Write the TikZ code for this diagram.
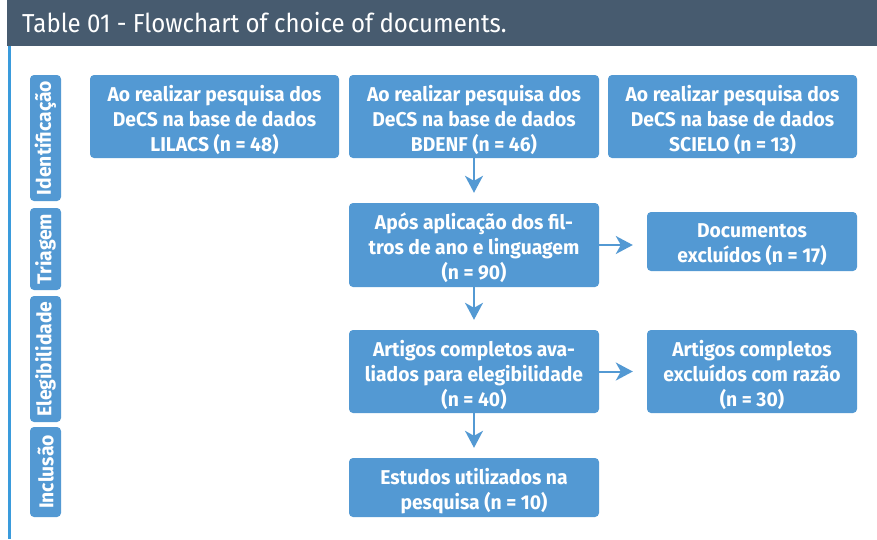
\documentclass[tikz,border=0pt]{standalone}
\usepackage{fontspec}
\setmainfont{Fira Sans}
\newfontfamily\boxfont[FakeStretch=0.965]{Fira Sans}
\newfontfamily\titlefont[FakeStretch=0.925]{Fira Sans}
\usetikzlibrary{arrows.meta}
\definecolor{hdr}{HTML}{475B6F}
\definecolor{bx}{HTML}{5399D3}
\definecolor{lineblue}{HTML}{3A9BDC}
\tikzset{
  box/.style={fill=bx, rounded corners=4pt, inner sep=0pt},
  boxtext/.style={inner sep=0pt, align=center, text=white,
    font=\boxfont\bfseries\fontsize{20}{25}\selectfont},
  tab/.style={fill=bx, rounded corners=4pt, inner sep=0pt, text=white, rotate=90,
    minimum height=31pt, font=\boxfont\bfseries\fontsize{20}{22}\selectfont},
  arr/.style={draw=bx, line width=2pt, -{Stealth[length=17pt,width=18pt,inset=5pt]}},
}
\begin{document}
\begin{tikzpicture}[x=1pt,y=-1pt]
\useasboundingbox (0,0) rectangle (877,539);
\fill[hdr] (7,0) rectangle (877,46);
\node[anchor=base west, inner sep=0pt, text=white, font=\titlefont\fontsize{26}{30}\selectfont] (title) at (22,32) {Table 01 - Flowchart of choice of documents.};
\fill[lineblue] (8,46) rectangle (11,539);

\node[tab, minimum width=126pt] (t1) at (45.5,138) {Identificação};
\node[tab, minimum width=82pt] (t2) at (45.5,249) {Triagem};
\node[tab, minimum width=126pt] (t3) at (45.5,359) {Elegibilidade};
\node[tab, minimum width=90pt] (t4) at (45.5,472) {Inclusão};

\node[box, minimum width=249pt, minimum height=83pt] (b1) at (214.5,116.5) {};
\node[boxtext] (b1t) at ([yshift=-3.5pt]b1.center) {Ao realizar pesquisa dos\\DeCS na base de dados\\LILACS (n = 48)};
\node[box, minimum width=250pt, minimum height=83pt] (b2) at (474,116.5) {};
\node[boxtext] (b2t) at ([yshift=-3.5pt]b2.center) {Ao realizar pesquisa dos\\DeCS na base de dados\\BDENF (n = 46)};
\node[box, minimum width=249pt, minimum height=83pt] (b3) at (732.5,116.5) {};
\node[boxtext] (b3t) at ([yshift=-3.5pt]b3.center) {Ao realizar pesquisa dos\\DeCS na base de dados\\SCIELO (n = 13)};

\node[box, minimum width=250pt, minimum height=84pt] (f) at (474,245) {};
\node[boxtext] (ft) at ([yshift=-2.5pt]f.center) {Após aplicação dos fil-\\tros de ano e linguagem\\(n = 90)};
\node[box, minimum width=210pt, minimum height=59pt] (d) at (752,241.5) {};
\node[boxtext] (dt) at ([yshift=-3.5pt]d.center) {Documentos\\excluídos (n = 17)};

\node[box, minimum width=250pt, minimum height=83pt] (a) at (474,371.5) {};
\node[boxtext] (at) at ([yshift=-3.5pt]a.center) {Artigos completos ava-\\liados para elegibilidade\\(n = 40)};
\node[box, minimum width=210pt, minimum height=83pt] (ax) at (752,371.5) {};
\node[boxtext] (axt) at ([yshift=-3.5pt]ax.center) {Artigos completos\\excluídos com razão\\(n = 30)};

\node[box, minimum width=250pt, minimum height=59pt] (e) at (474,487.5) {};
\node[boxtext] (et) at ([yshift=-3.5pt]e.center) {Estudos utilizados na\\pesquisa (n = 10)};

\draw[arr, shorten >=10pt] (b2.south) -- (f.north);
\draw[arr, shorten >=10pt] (f.south) -- (a.north);
\draw[arr, shorten >=10pt] (a.south) -- (e.north);
\draw[arr, shorten >=14pt] (f.east) -- (f.east -| d.west);
\draw[arr, shorten >=14pt] (a.east) -- (a.east -| ax.west);
\end{tikzpicture}
\end{document}
